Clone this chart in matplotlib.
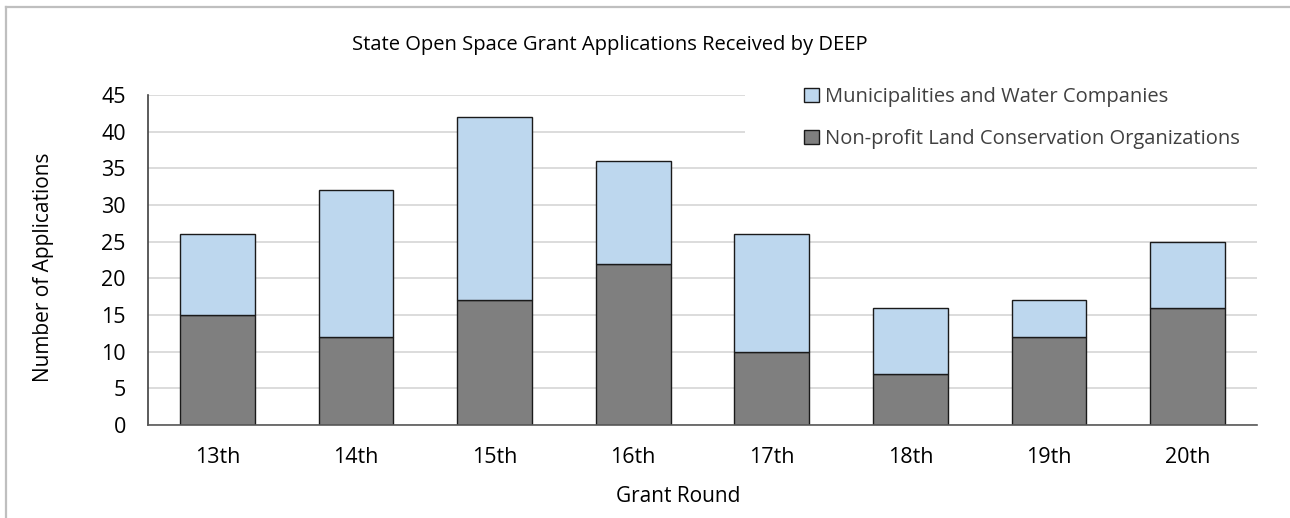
import numpy as np
import matplotlib
matplotlib.use("Agg")
import matplotlib.pyplot as plt
from matplotlib.patches import Rectangle
from matplotlib.lines import Line2D

plt.rcParams["font.family"] = ["Open Sans", "DejaVu Sans"]

# 数据
rounds = ["13th", "14th", "15th", "16th", "17th", "18th", "19th", "20th"]
nonprofit = [15, 12, 17, 22, 10, 7, 12, 16]
municipal = [11, 20, 25, 14, 16, 9, 5, 9]
labels = ["Municipalities and Water Companies",
          "Non-profit Land Conservation Organizations"]
yticks = [0, 5, 10, 15, 20, 25, 30, 35, 40, 45]

W, H = 1290, 518
fig = plt.figure(figsize=(W / 100, H / 100), dpi=100)
ax = fig.add_axes([148 / W, 1 - 425 / H, (1257 - 148) / W, 330 / H])

x = np.arange(len(rounds))
b1 = ax.bar(x, nonprofit, width=0.54, color="#7f7f7f", edgecolor="#1a1a1a",
            linewidth=1, zorder=2)
b2 = ax.bar(x, municipal, width=0.54, bottom=nonprofit, color="#bdd7ee",
            edgecolor="#1a1a1a", linewidth=1, zorder=2)

ax.set_xlim(-0.5, len(rounds) - 0.5)
ax.set_ylim(0, 45)
ax.set_yticks(yticks)
ax.set_xticks(x)
ax.set_xticklabels(rounds)
ax.tick_params(axis="both", length=0, labelsize=15.5, colors="black")
ax.tick_params(axis="x", pad=16)
ax.tick_params(axis="y", pad=16)
ax.yaxis.grid(True, color="#d9d9d9", linewidth=1.3)
ax.set_axisbelow(True)

for s in ["top", "right"]:
    ax.spines[s].set_visible(False)
ax.spines["left"].set_color("#404040")
ax.spines["bottom"].set_color("#595959")
ax.spines["left"].set_linewidth(1.2)
ax.spines["bottom"].set_linewidth(1.2)

# 图例背景遮住网格线
ax.add_patch(Rectangle((0.538, 0.815), 0.47, 0.2, transform=ax.transAxes,
                       facecolor="white", edgecolor="none", zorder=1,
                       clip_on=False))

leg = fig.legend([b2, b1], labels, loc="center left",
                 bbox_to_anchor=(794 / W, 1 - 118 / H), frameon=False,
                 fontsize=14.5, handlelength=0.75, handleheight=0.75,
                 handletextpad=0.3, labelspacing=1.1, borderpad=0,
                 labelcolor="#404040")

fig.text(352 / W, 1 - 45 / H, "State Open Space Grant Applications Received by DEEP",
         ha="left", va="center", fontsize=14.5)
fig.text(678 / W, 1 - 497 / H, "Grant Round", ha="center", va="center",
         fontsize=15)
fig.text(44 / W, 1 - 267 / H, "Number of Applications", ha="center",
         va="center", rotation=90, fontsize=15)

# 外框
fig.add_artist(Line2D([6 / W, 6 / W], [0, 1 - 7 / H], color="#bfbfbf",
                      linewidth=1.6, transform=fig.transFigure))
fig.add_artist(Line2D([6 / W, 1], [1 - 7 / H, 1 - 7 / H], color="#bfbfbf",
                      linewidth=1.6, transform=fig.transFigure))

fig.savefig("out.png", dpi=100)
